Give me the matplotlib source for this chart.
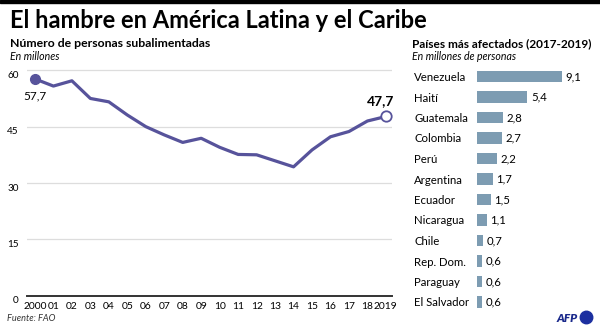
import numpy as np
import matplotlib.pyplot as plt
from matplotlib.patches import Rectangle
import matplotlib.transforms as mtransforms

plt.rcParams['font.family'] = ['Lato', 'DejaVu Sans']

# Data: people undernourished (millions), Latin America and Caribbean
years = list(range(2000, 2020))
year_labels = ['2000'] + ['%02d' % (y % 100) for y in years[1:-1]] + ['2019']
people = [57.7, 55.8, 57.2, 52.5, 51.6, 48.1, 45.0, 42.8, 40.8, 41.9,
          39.5, 37.6, 37.5, 35.9, 34.3, 38.8, 42.3, 43.7, 46.5, 47.7]

# Most affected countries (2017-2019), millions of people
countries = ['Venezuela', 'Haití', 'Guatemala', 'Colombia', 'Perú', 'Argentina',
             'Ecuador', 'Nicaragua', 'Chile', 'Rep. Dom.', 'Paraguay', 'El Salvador']
affected = [9.1, 5.4, 2.8, 2.7, 2.2, 1.7, 1.5, 1.1, 0.7, 0.6, 0.6, 0.6]

line_color = '#57539b'
bar_color = '#7d9cb2'
W, H = 600, 336

fig = plt.figure(figsize=(6, 3.36), dpi=100)

def fx(px):
    return px / W

def fy(py):
    return 1 - py / H

# black band at the top
fig.patches.append(Rectangle((0, fy(3)), 1, 3 / H, transform=fig.transFigure,
                             color='black', zorder=0))

fig.text(fx(10), fy(28.5), 'El hambre en América Latina y el Caribe',
         fontsize=17, fontweight='bold', va='baseline')
fig.text(fx(10), fy(47), 'Número de personas subalimentadas',
         fontsize=8.8, fontweight='bold', va='baseline')
fig.text(fx(10), fy(60), 'En millones', fontsize=7.6, style='italic',
         va='baseline')
fig.text(fx(412), fy(47), 'Países más afectados (2017-2019)',
         fontsize=8.6, fontweight='bold', va='baseline')
fig.text(fx(412), fy(60), 'En millones de personas', fontsize=7.6,
         style='italic', va='baseline')
fig.text(fx(7), fy(321), 'Fuente: FAO', fontsize=6.6, style='italic',
         color='#333333', va='baseline')

# line chart
ax = fig.add_axes([fx(27), fy(295.7), fx(392 - 27), 62 * 3.757 / H])
ax.plot(years, people, color=line_color, lw=2.3, solid_joinstyle='round',
        zorder=3)
ax.plot(years[0], people[0], 'o', ms=7, color=line_color, zorder=4)
ax.plot(years[-1], people[-1], 'o', ms=7.5, mfc='white', mec=line_color,
        mew=1.3, zorder=4)
ax.annotate(f'{people[0]:.1f}'.replace('.', ','), (years[0], people[0]),
            xytext=(0, -8), textcoords='offset points', ha='center', va='top',
            fontsize=8.5)
ax.annotate(f'{people[-1]:.1f}'.replace('.', ','), (years[-1], people[-1]),
            xytext=(-4, 7), textcoords='offset points', ha='center',
            va='bottom', fontsize=10, fontweight='bold')

ax.set_xlim(1999.57, 2019.33)
ax.set_ylim(0, 62)
ax.set_yticks([0, 15, 30, 45, 60])
ax.set_xticks(years)
ax.set_xticklabels(year_labels)
ax.grid(axis='y', color='#dddddd', lw=0.9)
ax.set_axisbelow(True)
for s in ['top', 'right', 'left']:
    ax.spines[s].set_visible(False)
ax.spines['bottom'].set_color('#333333')
ax.spines['bottom'].set_linewidth(1.4)
ax.tick_params(axis='x', length=0, pad=4.5, labelsize=7.4)
ax.tick_params(axis='y', length=0, pad=6, labelsize=7.2)
down = mtransforms.ScaledTranslation(0, -3 / 72, fig.dpi_scale_trans)
for lab in ax.get_yticklabels():
    lab.set_transform(lab.get_transform() + down)

# bar chart
bx = fig.add_axes([fx(476.7), fy(312.25), fx(590 - 476.7), 246 / H])
pos = np.arange(len(countries))
bx.barh(pos, affected, height=0.54, color=bar_color)
for i, v in enumerate(affected):
    bx.annotate(f'{v:.1f}'.replace('.', ','), (v, i), xytext=(2.5, 0),
                textcoords='offset points', va='center', fontsize=8.2)
bx.set_xlim(0, (590 - 476.7) / 9.4)
bx.set_ylim(len(countries) - 0.5, -0.5)
bx.set_yticks(pos)
bx.set_yticklabels(countries)
bx.set_xticks([])
bx.tick_params(axis='y', length=0, pad=45, labelsize=8.2)
for lab in bx.get_yticklabels():
    lab.set_ha('left')
for s in bx.spines.values():
    s.set_visible(False)

# AFP logo
fig.text(fx(578), fy(322), 'AFP', fontsize=8.5, fontweight='heavy',
         style='italic', color='#1b2a8c', ha='right', va='baseline')
fig.add_artist(plt.Line2D([fx(586)], [fy(317)], marker='o', ms=9,
                          color='#1c2fa0', transform=fig.transFigure))

fig.savefig('out.png', dpi=100)
